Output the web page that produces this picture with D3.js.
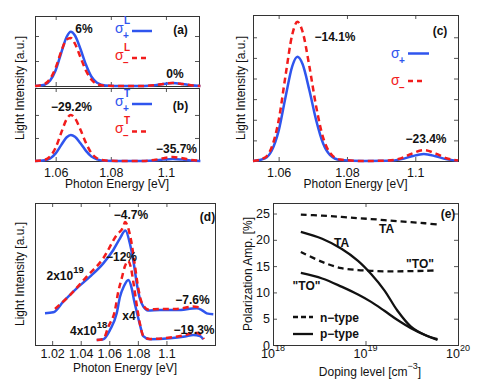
<!DOCTYPE html>
<html>
<head>
<meta charset="utf-8">
<script src="https://cdn.jsdelivr.net/npm/d3@7"></script>
<style>
  body { margin: 0; background: #fff; }
  svg { font-family: "Liberation Sans", Arial, sans-serif; }
  .tick text { font-size: 12.5px; fill: #111; }
  .ann { font-weight: bold; font-size: 12px; fill: #111; }
  .title { font-size: 12px; fill: #111; }
</style>
</head>
<body>
<div id="chart"></div>
<script>
// ---- data ----
// panels (a), (b), (c): photon energy [eV]
var energyAC = [1.0525, 1.056, 1.058, 1.060, 1.062, 1.064, 1.0655, 1.067, 1.069, 1.071, 1.073, 1.075, 1.078, 1.085, 1.092, 1.096, 1.099, 1.1025, 1.106, 1.109, 1.1125];
var aPlus  = [0, 0.05, 0.22, 0.63, 1.32, 1.97, 2.17, 2.02, 1.48, 0.85, 0.37, 0.13, 0.02, 0, 0, 0.03, 0.08, 0.12, 0.08, 0.03, 0];
var aMinus = [0, 0.08, 0.29, 0.73, 1.38, 1.86, 1.92, 1.69, 1.15, 0.61, 0.25, 0.08, 0.01, 0, 0, 0.03, 0.08, 0.12, 0.08, 0.03, 0];
var bPlus  = [0, 0.03, 0.11, 0.33, 0.69, 1.03, 1.13, 1.05, 0.77, 0.44, 0.19, 0.07, 0.01, 0, 0, 0.02, 0.06, 0.09, 0.06, 0.02, 0];
var bMinus = [0, 0.05, 0.20, 0.58, 1.22, 1.82, 2.0, 1.86, 1.36, 0.78, 0.34, 0.12, 0.02, 0, 0, 0.05, 0.12, 0.17, 0.12, 0.05, 0.01];
var cPlus  = [0, 0.13, 0.51, 1.46, 3.08, 4.60, 5.05, 4.70, 3.43, 1.97, 0.86, 0.30, 0.05, 0, 0.01, 0.09, 0.23, 0.34, 0.23, 0.09, 0.01];
var cMinus = [0, 0.17, 0.68, 1.96, 4.12, 6.14, 6.75, 6.28, 4.59, 2.63, 1.15, 0.41, 0.07, 0, 0.02, 0.14, 0.36, 0.53, 0.36, 0.14, 0.02];
var energyTicksAC = [1.06, 1.08, 1.1];

// panel (d): two doping levels
var d19PlusE  = [1.015, 1.0208, 1.0278, 1.0372, 1.0465, 1.0558, 1.0628, 1.0675, 1.0713, 1.0745, 1.0773, 1.0794, 1.0815, 1.084, 1.0871, 1.0955, 1.1072, 1.1212, 1.1247, 1.1282, 1.1328];
var d19Plus   = [2.23, 2.30, 3.05, 3.99, 4.81, 5.75, 6.69, 7.51, 8.06, 7.11, 5.63, 4.23, 3.24, 2.68, 2.43, 2.46, 2.46, 2.58, 2.46, 2.23, 2.16];
var d19MinusE = [1.022, 1.0325, 1.0442, 1.0558, 1.0652, 1.0698, 1.071, 1.0752, 1.0777, 1.0798, 1.0819, 1.0843, 1.0871, 1.0955, 1.1072, 1.1186, 1.1235];
var d19Minus  = [2.54, 3.52, 4.81, 6.11, 7.75, 8.33, 8.66, 7.39, 5.77, 4.30, 3.24, 2.71, 2.50, 2.54, 2.54, 2.71, 2.64];
var d18PlusE  = [1.0512, 1.0558, 1.0605, 1.0652, 1.0675, 1.0703, 1.0733, 1.0757, 1.0773, 1.0792, 1.0815, 1.0838, 1.0885, 1.1025, 1.113, 1.1188, 1.1235, 1.1258];
var d18Plus   = [0.35, 0.40, 1.06, 2.23, 3.40, 4.15, 4.58, 3.99, 3.17, 2.35, 1.41, 0.63, 0.40, 0.47, 0.60, 0.70, 0.63, 0.40];
var d18MinusE = [1.0512, 1.0558, 1.0593, 1.064, 1.0661, 1.0687, 1.071, 1.0731, 1.0752, 1.0768, 1.0792, 1.0815, 1.0838, 1.0885, 1.1025, 1.113, 1.12, 1.1235, 1.1263];
var d18Minus  = [0.35, 0.42, 1.29, 2.46, 3.66, 4.70, 5.56, 5.92, 5.42, 4.46, 2.82, 1.48, 0.63, 0.42, 0.53, 0.70, 0.87, 0.77, 0.42];
var energyTicksD = [1.02, 1.04, 1.06, 1.08, 1.1];

// panel (e): polarization amplitude vs doping
var doping = [2.0e18, 3.4e18, 5.5e18, 8.3e18, 1.15e19, 1.6e19, 2.2e19, 3.1e19, 4.4e19, 6.0e19];
var nTA = [24.8, 24.6, 24.35, 24.1, 23.95, 23.75, 23.55, 23.35, 23.15, 22.9];
var nTO = [17.7, 15.8, 14.6, 14.25, 14.1, 14.0, 14.0, 14.05, 14.1, 14.2];
var pTA = [21.5, 20.2, 18.3, 16.0, 13.5, 10.4, 6.6, 3.5, 1.9, 1.1];
var pTO = [13.7, 12.65, 11.1, 9.6, 8.2, 6.5, 4.8, 3.2, 1.9, 0.95];
var dopingTicks = [1e18, 1e19, 1e20];
var polTicks = [0, 5, 10, 15, 20, 25];

var blue = '#2f55ee';
var red = '#f21c1c';

var svg = d3.select('#chart').append('svg')
  .attr('width', 491)
  .attr('height', 382);

// frame + inside ticks on all four sides
function frameAxes(x, y, xTicks, yTicks, showX, pad) {
  var g = svg.append('g');
  var x0 = x.range()[0], x1 = x.range()[1], yb = y.range()[0], yt = y.range()[1];

  g.append('g').attr('transform', 'translate(0,' + yb + ')')
    .call(d3.axisBottom(x).tickValues(xTicks).tickSize(-4).tickPadding(pad)
      .tickFormat(showX ? function(d) { return d; } : ''));
  g.append('g').attr('transform', 'translate(0,' + yt + ')')
    .call(d3.axisTop(x).tickValues(xTicks).tickSize(-4).tickFormat(''));
  g.append('g').attr('transform', 'translate(' + x0 + ',0)')
    .call(d3.axisLeft(y).tickValues(yTicks).tickSize(-4).tickFormat(''));
  g.append('g').attr('transform', 'translate(' + x1 + ',0)')
    .call(d3.axisRight(y).tickValues(yTicks).tickSize(-4).tickFormat(''));

  g.selectAll('.domain').remove();
  g.selectAll('.tick line').attr('stroke', '#555');

  g.append('rect')
    .attr('x', x0 + 0.5).attr('y', yt + 0.5)
    .attr('width', x1 - x0).attr('height', yb - yt)
    .attr('fill', 'none').attr('stroke', '#333').attr('stroke-width', 1)
    .attr('shape-rendering', 'crispEdges');
  return g;
}

function curve(xs, ys, x, y, color, dashed, w, kind) {
  var pts = xs.map(function(d, i) { return [d, ys[i]]; });
  var line = d3.line()
    .x(function(d) { return x(d[0]); })
    .y(function(d) { return y(d[1]); })
    .curve(kind || d3.curveMonotoneX);
  svg.append('path')
    .attr('d', line(pts))
    .attr('fill', 'none')
    .attr('stroke', color)
    .attr('stroke-width', w || 2.5)
    .attr('stroke-dasharray', dashed ? '6,4' : null)
    .attr('stroke-linejoin', 'round');
}

function label(x, y, txt, anchor, cls) {
  return svg.append('text')
    .attr('x', x).attr('y', y)
    .attr('text-anchor', anchor || 'middle')
    .attr('class', cls || 'ann')
    .text(txt);
}

function supLabel(x, y, base, sup, anchor, cls, supSize) {
  var t = svg.append('text')
    .attr('x', x).attr('y', y)
    .attr('text-anchor', anchor || 'start')
    .attr('class', cls || 'ann');
  t.append('tspan').text(base);
  t.append('tspan').attr('dy', -7).attr('font-size', supSize || 9).text(sup);
  return t;
}

function yTitle(cx, cy, txt) {
  svg.append('text')
    .attr('transform', 'translate(' + cx + ',' + cy + ') rotate(-90)')
    .attr('text-anchor', 'middle')
    .attr('dy', '0.35em')
    .attr('class', 'title')
    .text(txt);
}

// legend entry: sigma with super/subscript and line sample
function sigmaKey(x, y, sup, sub, color, lineY, lineLen, dashed) {
  svg.append('text').attr('x', x).attr('y', y)
    .attr('fill', color).attr('font-size', 14).text('σ');
  if (sup) {
    svg.append('text').attr('x', x + 9).attr('y', y - 9)
      .attr('fill', color).attr('font-size', 10).attr('font-weight', 'bold').text(sup);
  }
  svg.append('text').attr('x', x + 8).attr('y', y + 5.5)
    .attr('fill', color).attr('font-size', 10).attr('font-weight', 'bold').text(sub);
  svg.append('line')
    .attr('x1', x + 17).attr('x2', x + 17 + lineLen)
    .attr('y1', lineY).attr('y2', lineY)
    .attr('stroke', color).attr('stroke-width', 2.5)
    .attr('stroke-dasharray', dashed ? '5,4' : null);
}

// ---- panel (a) ----
var xA = d3.scaleLinear().domain([1.0525, 1.112]).range([35, 199]);
var yA = d3.scaleLinear().domain([0, 2.8]).range([86, 16]);
frameAxes(xA, yA, energyTicksAC, [1, 2], false, 7);
curve(energyAC, aPlus, xA, yA, blue, false);
curve(energyAC, aMinus, xA, yA, red, true);
label(84, 33, '6%');
label(175, 78, '0%');
label(180.5, 34, '(a)');
sigmaKey(115, 33, 'L', '+', blue, 31, 20, false);
sigmaKey(115, 60, 'L', '−', red, 58, 17, true);

// ---- panel (b) ----
var yB = d3.scaleLinear().domain([0, 3.17]).range([161, 88]);
frameAxes(xA, yB, energyTicksAC, [1, 2], true, 7);
curve(energyAC, bPlus, xA, yB, blue, false);
curve(energyAC, bMinus, xA, yB, red, true);
label(71.5, 111, '−29.2%');
label(180.5, 110, '(b)');
label(176.5, 153, '−35.7%');
sigmaKey(115, 106, 'T', '+', blue, 104, 20, false);
sigmaKey(115, 133, 'T', '−', red, 131.5, 17, true);

svg.append('text').attr('x', 117).attr('y', 187.5).attr('text-anchor', 'middle')
  .attr('class', 'title').text('Photon Energy [eV]');
yTitle(20, 88, 'Light Intensity [a.u.]');

// ---- panel (c) ----
var xC = d3.scaleLinear().domain([1.0525, 1.1125]).range([253, 458]);
var yC = d3.scaleLinear().domain([0, 7.08]).range([161, 15]);
frameAxes(xC, yC, energyTicksAC, [1, 2, 3, 4, 5, 6], true, 7);
curve(energyAC, cPlus, xC, yC, blue, false);
curve(energyAC, cMinus, xC, yC, red, true);
label(335, 40.5, '−14.1%');
label(440, 35, '(c)');
label(426, 143, '−23.4%');
sigmaKey(391, 58, null, '+', blue, 53.5, 21, false);
sigmaKey(391, 85, null, '−', red, 81, 16, true);

svg.append('text').attr('x', 355.5).attr('y', 187.5).attr('text-anchor', 'middle')
  .attr('class', 'title').text('Photon Energy [eV]');
yTitle(241, 88, 'Light Intensity [a.u.]');

// ---- panel (d) ----
var xD = d3.scaleLinear().domain([1.008, 1.134]).range([35, 215]);
var yD = d3.scaleLinear().domain([0, 10]).range([345, 203]);
frameAxes(xD, yD, energyTicksD, [], true, 4);
curve(d19PlusE, d19Plus, xD, yD, blue, false);
curve(d19MinusE, d19Minus, xD, yD, red, true);
curve(d18PlusE, d18Plus, xD, yD, blue, false);
curve(d18MinusE, d18Minus, xD, yD, red, true);
label(131, 219, '−4.7%');
label(207.5, 221, '(d)');
label(121.5, 261, '−12%');
label(129, 320, 'x4');
label(192.5, 303.5, '−7.6%');
label(194, 333.5, '−19.3%');
supLabel(46.5, 280, '2x10', '19', 'start', 'ann', 9.5);
supLabel(70, 335, '4x10', '18', 'start', 'ann', 9.5);

svg.append('text').attr('x', 125).attr('y', 372).attr('text-anchor', 'middle')
  .attr('class', 'title').text('Photon Energy [eV]');
yTitle(20, 274, 'Light Intensity [a.u.]');

// ---- panel (e) ----
var xE = d3.scaleLog().domain([1e18, 1e20]).range([273, 458]);
var yE = d3.scaleLinear().domain([0, 27]).range([345, 203]);
var gE = frameAxes(xE, yE, dopingTicks, polTicks, false, 4);
gE.append('g').attr('transform', 'translate(273,0)')
  .call(d3.axisLeft(yE).tickValues(polTicks).tickSize(0).tickPadding(3))
  .call(function(g) { g.select('.domain').remove(); });

dopingTicks.forEach(function(d) {
  supLabel(xE(d), 358, '10', String(Math.round(Math.log10(d))), 'middle', 'tickE', 9);
});
svg.selectAll('.tickE').attr('font-size', 12.5).attr('fill', '#111');

curve(doping, nTA, xE, yE, '#111', true, 2.3, d3.curveCatmullRom);
curve(doping, nTO, xE, yE, '#111', true, 2.3, d3.curveCatmullRom);
curve(doping, pTA, xE, yE, '#111', false, 2.3, d3.curveCatmullRom);
curve(doping, pTO, xE, yE, '#111', false, 2.3, d3.curveCatmullRom);

label(448, 218, '(e)');
label(386.5, 233, 'TA');
label(341.5, 247, 'TA');
label(420, 268, '"TO"');
label(306.5, 290, '"TO"');

// legend for (e)
svg.append('line').attr('x1', 293).attr('x2', 313).attr('y1', 317).attr('y2', 317)
  .attr('stroke', '#111').attr('stroke-width', 2.3).attr('stroke-dasharray', '5,3');
label(320, 322, 'n−type', 'start');
svg.append('line').attr('x1', 293).attr('x2', 313).attr('y1', 334).attr('y2', 334)
  .attr('stroke', '#111').attr('stroke-width', 2.3);
label(320, 338, 'p−type', 'start');

supLabel(370, 376, 'Doping level [cm', '−3', 'middle', 'title', 9)
  .append('tspan').attr('dy', 7).text(']');
yTitle(248, 274, 'Polarization Amp. [%]');
</script>
</body>
</html>
